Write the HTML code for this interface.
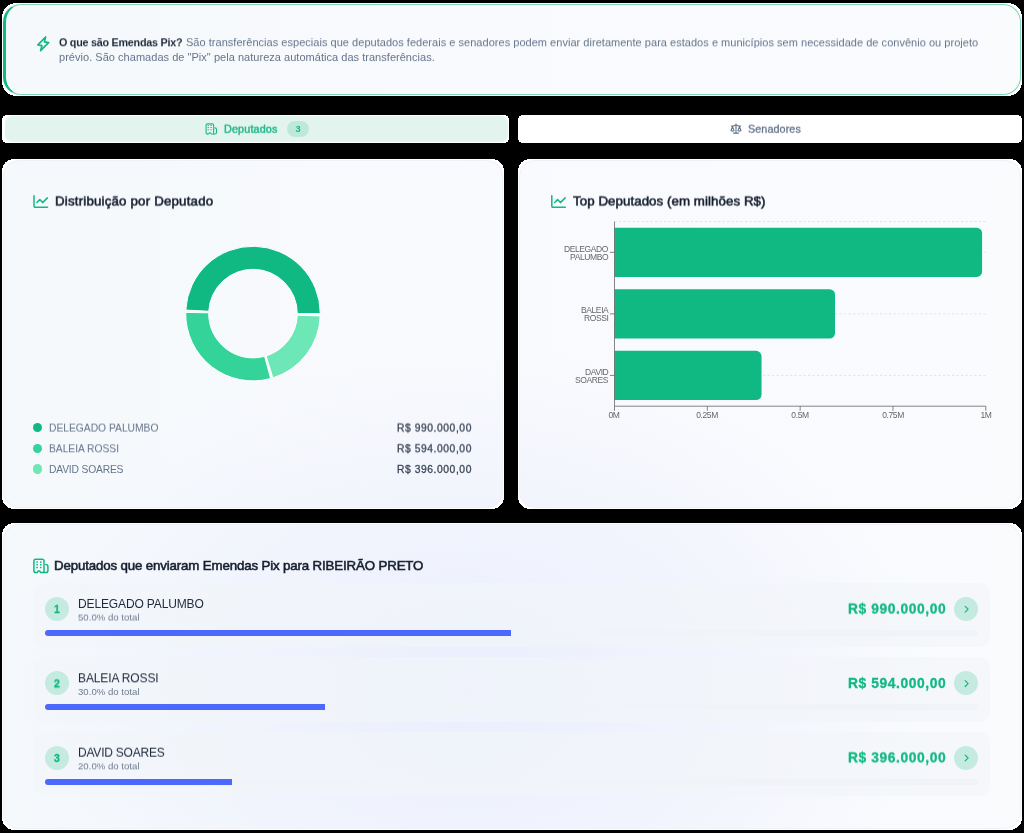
<!DOCTYPE html>
<html lang="pt-BR">
<head>
<meta charset="utf-8">
<title>Emendas Pix</title>
<style>
*{box-sizing:border-box;margin:0;padding:0}
html,body{width:1024px;height:833px;overflow:hidden;background:#000}
body{position:relative;font-family:"Liberation Sans",sans-serif;color:#1e293b}
.t{position:absolute;white-space:nowrap;line-height:1;will-change:transform}
.card{position:absolute;border-radius:16px;border:1px solid #eef1f7;background-repeat:no-repeat}
svg{position:absolute;left:0;top:0;overflow:visible}
.ic{fill:none;stroke-linecap:round;stroke-linejoin:round}
#c1{left:3px;top:4px;width:1017.5px;height:91px;border-radius:18px;border:1px solid #7fd6b6;border-left:3px solid #10b981;background-image:radial-gradient(ellipse 470px 340px at 464px 685px,#eaeefd 0%,rgba(234,238,253,0) 100%),linear-gradient(90deg,#f5f9fc 0%,#f9fafd 50%,#fafbfd 100%);background-size:auto,1024px 100%;background-position:0 0,-6px 0;background-color:#f9fafd}
#c2{left:3px;top:160px;width:500px;height:348px;background-image:radial-gradient(ellipse 470px 340px at 466px 529px,#eaeefd 0%,rgba(234,238,253,0) 100%),linear-gradient(90deg,#f5f9fc 0%,#f9fafd 50%,#fafbfd 100%);background-size:auto,1024px 100%;background-position:0 0,-4px 0;background-color:#f9fafd}
#c3{left:519px;top:160px;width:502px;height:348px;background-image:radial-gradient(ellipse 470px 340px at -50px 529px,#eaeefd 0%,rgba(234,238,253,0) 100%),linear-gradient(90deg,#f5f9fc 0%,#f9fafd 50%,#fafbfd 100%);background-size:auto,1024px 100%;background-position:0 0,-520px 0;background-color:#f9fafd}
#c4{left:3px;top:524px;width:1018px;height:305px;background-image:radial-gradient(ellipse 470px 340px at 466px 165px,#eaeefd 0%,rgba(234,238,253,0) 100%),linear-gradient(90deg,#f5f9fc 0%,#f9fafd 50%,#fafbfd 100%);background-size:auto,1024px 100%;background-position:0 0,-4px 0;background-color:#f9fafd}
.row{position:absolute;left:34px;width:956px;height:64.5px;border-radius:10px;background:rgba(241,245,249,.6)}
.num,.go{position:absolute;width:24px;height:24px;border-radius:50%;background:#c5eadf}
.num{left:45px}.go{left:954px}
.track{position:absolute;left:45px;width:932.6px;height:6px;border-radius:3px;background:#f0f3f7}
.bar{position:absolute;left:45px;height:6px;border-radius:3px 0 0 3px;background:#4c69fe}
.dot{position:absolute;left:33px;width:9.4px;height:9.4px;border-radius:50%}
</style>
</head>
<body>
<svg width="1024" height="833" viewBox="0 0 1024 833" shape-rendering="crispEdges" fill="#fff">
<rect x="2" y="3" width="1020" height="93" rx="14.5"/>
<rect x="2" y="115" width="507" height="28" rx="5"/>
<rect x="518" y="115" width="504" height="28" rx="5"/>
<rect x="2" y="159" width="502" height="350" rx="12"/>
<rect x="518" y="159" width="504" height="350" rx="12"/>
<rect x="2" y="523" width="1020" height="307" rx="12"/>
</svg>
<div style="position:absolute;left:4.5px;top:116px;width:503px;height:26px;border-radius:7px;background:#e3f4ef"></div>
<div id="c1" class="card"></div>
<div class="t" id="t1a" style="left:59px;top:37px;font-size:10.8px;color:#1e293b;font-weight:700;letter-spacing:-0.2619px;transform:translate(0.00px,0.30px) rotate(.02deg);">O que são Emendas Pix?</div>
<div class="t" id="t1b" style="left:186px;top:37px;font-size:11px;color:#64748b;letter-spacing:0.03px;transform:translate(0.00px,0.30px) rotate(.02deg);">São transferências especiais que deputados federais e senadores podem enviar diretamente para estados e municípios sem necessidade de convênio ou projeto</div>
<div class="t" id="t1c" style="left:59px;top:52px;font-size:11px;color:#64748b;letter-spacing:0.0315px;transform:translate(0.00px,0.00px) rotate(.02deg);">prévio. São chamadas de "Pix" pela natureza automática das transferências.</div>
<div class="t" id="tab1" style="left:224px;top:123px;font-size:10.8px;color:#1fb888;letter-spacing:0.15px;-webkit-text-stroke:0.45px #1fb888;transform:translate(0.00px,0.75px) rotate(.02deg);">Deputados</div>
<div style="position:absolute;left:287px;top:120.5px;width:22px;height:16px;border-radius:8px;background:#bfe8db"></div>
<div class="t" id="tab1n" style="left:98px;width:400px;text-align:center;top:125px;font-size:9.3px;color:#10b981;font-weight:700;transform:translate(0.00px,0.00px) rotate(.02deg);">3</div>
<div class="t" id="tab2" style="left:748px;top:123px;font-size:10.8px;color:#64748b;letter-spacing:0.075px;-webkit-text-stroke:0.3px #64748b;transform:translate(0.00px,0.75px) rotate(.02deg);">Senadores</div>
<div id="c2" class="card"></div>
<div class="t" id="h2" style="left:55px;top:194px;font-size:13.3px;color:#141d2e;letter-spacing:0.1827px;-webkit-text-stroke:0.55px #141d2e;transform:translate(0.00px,0.50px) rotate(.02deg);">Distribuição por Deputado</div>
<div class="dot" style="top:422.9px;background:#10b981"></div>
<div class="t" id="lg0" style="left:49px;top:423px;font-size:10.3px;color:#64748b;letter-spacing:-0.014px;transform:translate(0.00px,0.60px) rotate(.02deg);">DELEGADO PALUMBO</div>
<div class="t" id="lv0" style="right:552px;top:423px;font-size:10.3px;color:#3b4657;letter-spacing:0.5673px;-webkit-text-stroke:0.3px #3b4657;transform:translate(0.00px,0.60px) rotate(.02deg);">R$ 990.000,00</div>
<div class="dot" style="top:443.6px;background:#34d399"></div>
<div class="t" id="lg1" style="left:49px;top:444px;font-size:10.3px;color:#64748b;letter-spacing:-0.035px;transform:translate(0.00px,0.30px) rotate(.02deg);">BALEIA ROSSI</div>
<div class="t" id="lv1" style="right:552px;top:444px;font-size:10.3px;color:#3b4657;letter-spacing:0.5673px;-webkit-text-stroke:0.3px #3b4657;transform:translate(0.00px,0.30px) rotate(.02deg);">R$ 594.000,00</div>
<div class="dot" style="top:464.3px;background:#6ee7b7"></div>
<div class="t" id="lg2" style="left:49px;top:465px;font-size:10.3px;color:#64748b;letter-spacing:-0.1819px;transform:translate(0.00px,0.00px) rotate(.02deg);">DAVID SOARES</div>
<div class="t" id="lv2" style="right:552px;top:465px;font-size:10.3px;color:#3b4657;letter-spacing:0.5673px;-webkit-text-stroke:0.3px #3b4657;transform:translate(0.00px,0.00px) rotate(.02deg);">R$ 396.000,00</div>
<div id="c3" class="card"></div>
<div class="t" id="h3" style="left:573px;top:194px;font-size:13.3px;color:#141d2e;letter-spacing:0.0632px;-webkit-text-stroke:0.55px #141d2e;transform:translate(0.00px,0.50px) rotate(.02deg);">Top Deputados (em milhões R$)</div>
<div id="c4" class="card"></div>
<div class="t" id="h4" style="left:54px;top:559px;font-size:13.3px;color:#141d2e;letter-spacing:-0.1509px;-webkit-text-stroke:0.55px #141d2e;transform:translate(0.00px,0.00px) rotate(.02deg);">Deputados que enviaram Emendas Pix para RIBEIRÃO PRETO</div>
<div class="row" style="top:582.8px"></div>
<div class="num" style="top:596.8px"></div>
<div class="t" id="rn0" style="left:-143px;width:400px;text-align:center;top:604px;font-size:10.5px;color:#10b981;font-weight:700;-webkit-text-stroke:0.3px #10b981;transform:translate(0.00px,0.00px) rotate(.02deg);">1</div>
<div class="t" id="nm0" style="left:78px;top:598px;font-size:12px;color:#1e293b;letter-spacing:-0.1333px;transform:translate(0.00px,0.00px) rotate(.02deg);">DELEGADO PALUMBO</div>
<div class="t" id="pc0" style="left:78px;top:612px;font-size:9.6px;color:#6e7b90;letter-spacing:0.0148px;transform:translate(0.00px,0.55px) rotate(.02deg);">50.0% do total</div>
<div class="t" id="rv0" style="right:78px;top:602px;font-size:13.8px;color:#10b981;font-weight:700;letter-spacing:0.5995px;-webkit-text-stroke:0.3px #10b981;transform:translate(0.00px,0.60px) rotate(.02deg);">R$ 990.000,00</div>
<div class="go" style="top:596.8px"></div>
<div class="track" style="top:630.0px"></div>
<div class="bar" style="top:630.0px;width:466.3px"></div>
<div class="row" style="top:657.2px"></div>
<div class="num" style="top:671.2px"></div>
<div class="t" id="rn1" style="left:-143px;width:400px;text-align:center;top:678px;font-size:10.5px;color:#10b981;font-weight:700;-webkit-text-stroke:0.3px #10b981;transform:translate(0.00px,0.40px) rotate(.02deg);">2</div>
<div class="t" id="nm1" style="left:78px;top:672px;font-size:12px;color:#1e293b;letter-spacing:-0.1276px;transform:translate(0.00px,0.30px) rotate(.02deg);">BALEIA ROSSI</div>
<div class="t" id="pc1" style="left:78px;top:687px;font-size:9.6px;color:#6e7b90;letter-spacing:0.0148px;transform:translate(0.00px,0.00px) rotate(.02deg);">30.0% do total</div>
<div class="t" id="rv1" style="right:78px;top:677px;font-size:13.8px;color:#10b981;font-weight:700;letter-spacing:0.5995px;-webkit-text-stroke:0.3px #10b981;transform:translate(0.00px,0.00px) rotate(.02deg);">R$ 594.000,00</div>
<div class="go" style="top:671.2px"></div>
<div class="track" style="top:704.4px"></div>
<div class="bar" style="top:704.4px;width:279.8px"></div>
<div class="row" style="top:731.6px"></div>
<div class="num" style="top:745.6px"></div>
<div class="t" id="rn2" style="left:-143px;width:400px;text-align:center;top:753px;font-size:10.5px;color:#10b981;font-weight:700;-webkit-text-stroke:0.3px #10b981;transform:translate(0.00px,0.00px) rotate(.02deg);">3</div>
<div class="t" id="nm2" style="left:78px;top:746px;font-size:12px;color:#1e293b;letter-spacing:-0.217px;transform:translate(0.00px,0.70px) rotate(.02deg);">DAVID SOARES</div>
<div class="t" id="pc2" style="left:78px;top:761px;font-size:9.6px;color:#6e7b90;letter-spacing:0.0148px;transform:translate(0.00px,0.35px) rotate(.02deg);">20.0% do total</div>
<div class="t" id="rv2" style="right:78px;top:751px;font-size:13.8px;color:#10b981;font-weight:700;letter-spacing:0.5995px;-webkit-text-stroke:0.3px #10b981;transform:translate(0.00px,0.40px) rotate(.02deg);">R$ 396.000,00</div>
<div class="go" style="top:745.6px"></div>
<div class="track" style="top:778.8px"></div>
<div class="bar" style="top:778.8px;width:186.5px"></div>
<svg width="1024" height="833" viewBox="0 0 1024 833">
<path class="ic" stroke="#10b981" stroke-width="1.7" d="M45.6 37 44.4 41.9 48.6 42.6 40.6 50.6 41.9 45.6 37.9 44.9Z"/>
<g transform="translate(205,123) scale(0.75)"><g class="ic" stroke="#22b98a" stroke-width="1.5"><path d="M3.2 14.6a1.8 1.8 0 0 1-1.8-1.8V3a1.8 1.8 0 0 1 1.8-1.8h6.5a1.8 1.8 0 0 1 1.8 1.8v11.6"/><path d="M3.2 14.6h1.3c.8 0 .5-1.5 1.4-1.5h1.1c.9 0 .6 1.5 1.4 1.5h5.2a1.8 1.8 0 0 0 1.8-1.8V8.6a2.1 2.1 0 0 0-2.1-2.1"/></g><g fill="#22b98a"><rect x="3.30" y="2.62" width="2.0" height="1.35" rx=".5"/><rect x="3.30" y="5.42" width="2.0" height="1.35" rx=".5"/><rect x="3.30" y="8.32" width="2.0" height="1.35" rx=".5"/><rect x="7.10" y="2.62" width="2.0" height="1.35" rx=".5"/><rect x="7.10" y="5.42" width="2.0" height="1.35" rx=".5"/><rect x="7.10" y="8.32" width="2.0" height="1.35" rx=".5"/></g></g>
<g transform="translate(32.5,558) scale(1)"><g class="ic" stroke="#10b981" stroke-width="1.5"><path d="M3.2 14.6a1.8 1.8 0 0 1-1.8-1.8V3a1.8 1.8 0 0 1 1.8-1.8h6.5a1.8 1.8 0 0 1 1.8 1.8v11.6"/><path d="M3.2 14.6h1.3c.8 0 .5-1.5 1.4-1.5h1.1c.9 0 .6 1.5 1.4 1.5h5.2a1.8 1.8 0 0 0 1.8-1.8V8.6a2.1 2.1 0 0 0-2.1-2.1"/></g><g fill="#10b981"><rect x="3.75" y="3.35" width="1.7" height="1.5" rx=".5"/><rect x="3.75" y="6.05" width="1.7" height="1.5" rx=".5"/><rect x="3.75" y="8.75" width="1.7" height="1.5" rx=".5"/><rect x="7.45" y="3.35" width="1.7" height="1.5" rx=".5"/><rect x="7.45" y="6.05" width="1.7" height="1.5" rx=".5"/><rect x="7.45" y="8.75" width="1.7" height="1.5" rx=".5"/></g></g>
<g class="ic" stroke="#64748b" stroke-width="2.3" transform="translate(730,122.6) scale(0.5)"><path d="m16 16 3-8 3 8c-.87.65-1.92 1-3 1s-2.13-.35-3-1Z"/><path d="m2 16 3-8 3 8c-.87.65-1.92 1-3 1s-2.13-.35-3-1Z"/><path d="M7 21h10"/><path d="M12 3v18"/><path d="M3 7h2c2 0 5-1 7-2 2 1 5 2 7 2h2"/></g>
<g class="ic" stroke="#10b981" stroke-width="1.5" transform="translate(0,0)"><path d="M34 195.8V206a1.2 1.2 0 0 0 1.2 1.2H47.5"/><path d="M36.9 202.5 39.8 199.6 42.6 202.6 47.4 197.9"/></g>
<g class="ic" stroke="#10b981" stroke-width="1.5" transform="translate(517.8,0)"><path d="M34 195.8V206a1.2 1.2 0 0 0 1.2 1.2H47.5"/><path d="M36.9 202.5 39.8 199.6 42.6 202.6 47.4 197.9"/></g>
<path d="M320.30 313.60A67.3 67.3 0 0 0 185.79 310.08L208.76 311.28A44.3 44.3 0 0 1 297.30 313.60Z" fill="#10b981" stroke="#fff" stroke-width="1"/>
<path d="M185.71 312.43A67.3 67.3 0 0 0 270.65 378.55L264.61 356.35A44.3 44.3 0 0 1 208.71 312.83Z" fill="#34d399" stroke="#fff" stroke-width="1"/>
<path d="M272.90 377.89A67.3 67.3 0 0 0 320.26 315.95L297.27 315.15A44.3 44.3 0 0 1 266.10 355.92Z" fill="#6ee7b7" stroke="#fff" stroke-width="1"/>
<path d="M614.5 221.55H985.8" stroke="#d9dde5" stroke-width="0.8" stroke-dasharray="2.25 2.25" fill="none"/>
<path d="M614.5 252.33H985.8" stroke="#d9dde5" stroke-width="0.8" stroke-dasharray="2.25 2.25" fill="none"/>
<path d="M614.5 313.88H985.8" stroke="#d9dde5" stroke-width="0.8" stroke-dasharray="2.25 2.25" fill="none"/>
<path d="M614.5 375.42H985.8" stroke="#d9dde5" stroke-width="0.8" stroke-dasharray="2.25 2.25" fill="none"/>
<path d="M614.5 227.71h362.09a5.5 5.5 0 0 1 5.5 5.5v38.24a5.5 5.5 0 0 1 -5.5 5.5h-362.09z" fill="#10b981"/>
<path d="M614.5 289.25h215.05a5.5 5.5 0 0 1 5.5 5.5v38.24a5.5 5.5 0 0 1 -5.5 5.5h-215.05z" fill="#10b981"/>
<path d="M614.5 350.80h141.53a5.5 5.5 0 0 1 5.5 5.5v38.24a5.5 5.5 0 0 1 -5.5 5.5h-141.53z" fill="#10b981"/>
<path d="M614.5 221.55V406.2M614.5 406.2H985.8" stroke="#666" stroke-width="0.8" fill="none"/>
<path d="M614.50 406.2v4.6" stroke="#666" stroke-width="0.8" fill="none"/>
<path d="M707.33 406.2v4.6" stroke="#666" stroke-width="0.8" fill="none"/>
<path d="M800.15 406.2v4.6" stroke="#666" stroke-width="0.8" fill="none"/>
<path d="M892.97 406.2v4.6" stroke="#666" stroke-width="0.8" fill="none"/>
<path d="M985.80 406.2v4.6" stroke="#666" stroke-width="0.8" fill="none"/>
<path d="M609.9 252.33h4.6" stroke="#666" stroke-width="0.8" fill="none"/>
<path d="M609.9 313.88h4.6" stroke="#666" stroke-width="0.8" fill="none"/>
<path d="M609.9 375.42h4.6" stroke="#666" stroke-width="0.8" fill="none"/>
<path class="ic" d="M965.2 606.3l2.9 2.9-2.9 2.9" stroke="#10b981" stroke-width="1.2"/>
<path class="ic" d="M965.2 680.7l2.9 2.9-2.9 2.9" stroke="#10b981" stroke-width="1.2"/>
<path class="ic" d="M965.2 755.1l2.9 2.9-2.9 2.9" stroke="#10b981" stroke-width="1.2"/>
</svg>
<div class="t" id="yl0a" style="right:416px;top:245px;font-size:8.5px;color:#666;letter-spacing:-0.4px;transform:translate(0.00px,0.00px) rotate(.02deg);">DELEGADO</div>
<div class="t" id="yl0b" style="right:416px;top:253px;font-size:8.5px;color:#666;letter-spacing:-0.4px;transform:translate(0.00px,0.00px) rotate(.02deg);">PALUMBO</div>
<div class="t" id="yl1a" style="right:416px;top:306px;font-size:8.5px;color:#666;letter-spacing:-0.4px;transform:translate(0.00px,0.00px) rotate(.02deg);">BALEIA</div>
<div class="t" id="yl1b" style="right:416px;top:314px;font-size:8.5px;color:#666;letter-spacing:-0.4px;transform:translate(0.00px,0.00px) rotate(.02deg);">ROSSI</div>
<div class="t" id="yl2a" style="right:416px;top:368px;font-size:8.5px;color:#666;letter-spacing:-0.4px;transform:translate(0.00px,0.00px) rotate(.02deg);">DAVID</div>
<div class="t" id="yl2b" style="right:416px;top:376px;font-size:8.5px;color:#666;letter-spacing:-0.4px;transform:translate(0.00px,0.00px) rotate(.02deg);">SOARES</div>
<div class="t" id="xl0" style="left:414px;width:400px;text-align:center;top:411px;font-size:8.5px;color:#666;letter-spacing:-0.4px;transform:translate(0.00px,0.00px) rotate(.02deg);">0M</div>
<div class="t" id="xl1" style="left:507px;width:400px;text-align:center;top:411px;font-size:8.5px;color:#666;letter-spacing:-0.4px;transform:translate(0.00px,0.00px) rotate(.02deg);">0.25M</div>
<div class="t" id="xl2" style="left:600px;width:400px;text-align:center;top:411px;font-size:8.5px;color:#666;letter-spacing:-0.4px;transform:translate(0.00px,0.00px) rotate(.02deg);">0.5M</div>
<div class="t" id="xl3" style="left:693px;width:400px;text-align:center;top:411px;font-size:8.5px;color:#666;letter-spacing:-0.4px;transform:translate(0.00px,0.00px) rotate(.02deg);">0.75M</div>
<div class="t" id="xl4" style="left:786px;width:400px;text-align:center;top:411px;font-size:8.5px;color:#666;letter-spacing:-0.4px;transform:translate(0.00px,0.00px) rotate(.02deg);">1M</div>
</body>
</html>
